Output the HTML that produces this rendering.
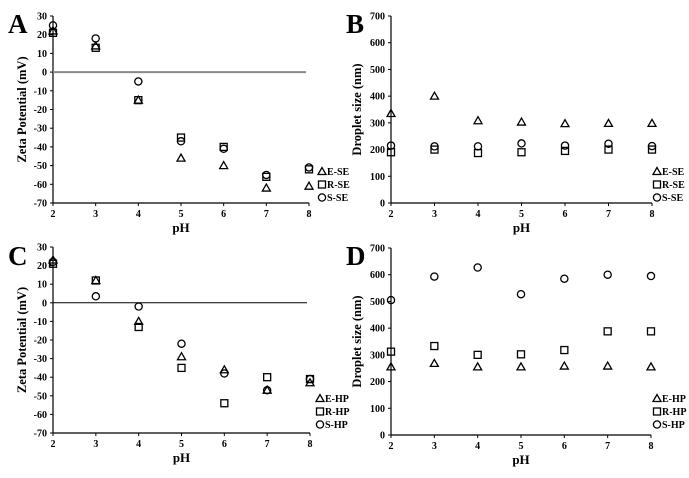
<!DOCTYPE html>
<html><head><meta charset="utf-8"><style>
body{margin:0;background:#fff}
svg text{font-family:"Liberation Serif",serif;font-weight:bold;fill:#000}
</style></head><body>
<svg id="fig" width="689" height="473" viewBox="0 0 689 473" xmlns="http://www.w3.org/2000/svg"></svg>
<script>
const phs=[2,3,4,5,6,7,8];
const aE=[22,14,-15,-46,-50,-62,-61];
const aR=[21,13,-15,-35,-40,-56,-52];
const aS=[25,18,-5,-37,-41,-55,-51];
const bE=[335,400,308,303,297,298,298];
const bR=[190,200,187,190,195,200,200];
const bS=[215,212,212,223,215,222,213];
const cE=[23,12,-10,-29,-36,-47,-43];
const cR=[21,12,-13,-35,-54,-40,-41];
const cS=[22,3.5,-2,-22,-38,-47,-41];
const dE=[255,268,255,255,258,258,255];
const dR=[312,333,300,302,318,388,388];
const dS=[505,593,627,527,585,600,595];
const zetaTicks=[30,20,10,0,-10,-20,-30,-40,-50,-60,-70];
const sizeTicks=[700,600,500,400,300,200,100,0];

const NS="http://www.w3.org/2000/svg";
const svg=document.getElementById('fig');
function mk(tag,attrs,parent,txt){const e=document.createElementNS(NS,tag);for(const k in attrs)e.setAttribute(k,attrs[k]);if(txt!==undefined)e.textContent=txt;(parent||svg).appendChild(e);return e;}

function marker(g,type,x,y){
  let e;
  if(type==='t'){e=mk('polygon',{points:`${x},${y-4} ${x-4},${y+3} ${x+4},${y+3}`,fill:'none',stroke:'#000','stroke-width':1.3},g);}
  else if(type==='s'){e=mk('rect',{x:x-3.5,y:y-3.5,width:7,height:7,fill:'none',stroke:'#000','stroke-width':1.3},g);}
  else {e=mk('circle',{cx:x,cy:y,r:3.6,fill:'none',stroke:'#000','stroke-width':1.3},g);}
  return e;
}

function panel(o){
  const g=mk('g',{});
  
  
  const xs=v=>o.x0+(v-2)/6*(o.x1-o.x0);
  const ys=v=>o.yTop+(o.ymax-v)/(o.ymax-o.ymin)*(o.yBot-o.yTop);
  const lt=mk('text',{x:o.lx,y:o.ly,'font-size':27},g,o.letter);
  
  
  // axes
  const ya=mk('line',{x1:o.x0,y1:o.yTop,x2:o.x0,y2:o.yBot,stroke:'#000','stroke-width':1.2},g);
  
  const xa=mk('line',{x1:o.x0,y1:o.yBot,x2:o.x1,y2:o.yBot,stroke:'#000','stroke-width':1.2},g);
  
  o.ticks.forEach(t=>{
    const y=ys(t);
    mk('line',{x1:o.x0-3,y1:y,x2:o.x0,y2:y,stroke:'#000','stroke-width':1},g);
    const tx=mk('text',{x:o.x0-6,y:y+3.5,'font-size':10,'text-anchor':'end'},g,String(t));
    
  });
  phs.forEach(p=>{
    const x=xs(p);
    mk('line',{x1:x,y1:o.yBot,x2:x,y2:o.yBot+3,stroke:'#000','stroke-width':1},g);
    const tx=mk('text',{x:x,y:o.yBot+14,'font-size':10,'text-anchor':'middle'},g,String(p));
    
  });
  if(o.zero){
    const z=mk('line',{x1:o.x0,y1:ys(0),x2:o.x1-3,y2:ys(0),stroke:o.zero,'stroke-width':o.zw},g);
    
  }
  const xt=mk('text',{x:(o.x0+o.x1)/2,y:o.yBot+29,'font-size':13,'text-anchor':'middle'},g,'pH');
  
  const cy=(o.yTop+o.yBot)/2;
  const yt=mk('text',{x:o.ytx,y:cy,'font-size':12.5,'text-anchor':'middle',transform:`rotate(-90 ${o.ytx} ${cy})`},g,o.ytitle);
  
  const types=['t','s','c'];
  o.series.forEach((s,i)=>{
    const sg=mk('g',{},g);
    
    
    s.forEach((v,j)=>{
      const m=marker(sg,types[i],xs(phs[j]),ys(v));
      
      
    });
    const lg=mk('g',{},g);
    
    
    const ly=o.legY+i*13;
    marker(lg,types[i],o.legX,ly-3.5);
    mk('text',{x:o.legX+5,y:ly,'font-size':10},lg,o.labels[i]);
  });
}

panel({name:'panel-a',letter:'A',lx:8,ly:33,x0:53,x1:309,yTop:16,yBot:203,ymin:-70,ymax:30,ticks:zetaTicks,zero:'#888',zw:2,ytx:26,ytitle:'Zeta Potential (mV)',series:[aE,aR,aS],labels:['E-SE','R-SE','S-SE'],legX:322,legY:175});
panel({name:'panel-b',letter:'B',lx:346,ly:33,x0:391,x1:652,yTop:16,yBot:203,ymin:0,ymax:700,ticks:sizeTicks,zero:null,ytx:361,ytitle:'Droplet size (nm)',series:[bE,bR,bS],labels:['E-SE','R-SE','S-SE'],legX:657,legY:175});
panel({name:'panel-c',letter:'C',lx:8,ly:265,x0:53,x1:310,yTop:247,yBot:433,ymin:-70,ymax:30,ticks:zetaTicks,zero:'#000',zw:1,ytx:26,ytitle:'Zeta Potential (mV)',series:[cE,cR,cS],labels:['E-HP','R-HP','S-HP'],legX:320,legY:402});
panel({name:'panel-d',letter:'D',lx:346,ly:265,x0:391,x1:651,yTop:248,yBot:435,ymin:0,ymax:700,ticks:sizeTicks,zero:null,ytx:361,ytitle:'Droplet size (nm)',series:[dE,dR,dS],labels:['E-HP','R-HP','S-HP'],legX:657,legY:402});
</script>
</body></html>
